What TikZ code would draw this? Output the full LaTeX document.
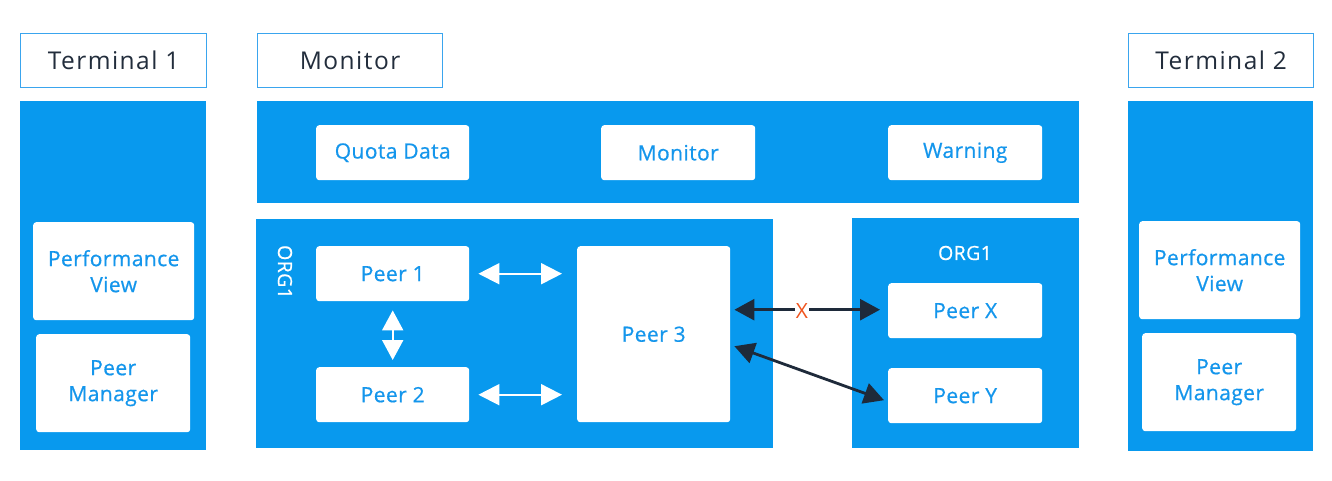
\documentclass[tikz,border=0pt]{standalone}
\usepackage{fontspec}
\setmainfont{Open Sans}
\newfontfamily\titlefont[LetterSpace=6]{Open Sans}
\newfontfamily\boxfont[LetterSpace=2,FakeBold=0.6]{Open Sans}
\usetikzlibrary{arrows.meta,calc}
\definecolor{bluefill}{HTML}{0899EE}
\definecolor{bluetext}{HTML}{1496EC}
\definecolor{darktext}{HTML}{222D3C}
\definecolor{darkarrow}{HTML}{1E2A3A}
\definecolor{xorange}{HTML}{F0541E}
\definecolor{labelborder}{HTML}{3AA5EE}
\begin{document}
\begin{tikzpicture}[x=1pt,y=-1pt,
  panel/.style={fill=bluefill, draw=none},
  titlebox/.style={draw=labelborder, line width=1.2pt, fill=white, text=darktext,
     font=\titlefont\fontsize{24.5}{30}\selectfont, inner sep=0pt, anchor=north west},
  wbox/.style={fill=white, draw=none, rounded corners=3pt, text=bluetext,
     font=\boxfont\fontsize{21}{26}\selectfont, inner sep=0pt, align=center, anchor=north west},
  warr/.style={draw=white, line width=2pt, {Triangle[length=21pt,width=21pt]}-{Triangle[length=21pt,width=21pt]}},
  varr/.style={draw=white, line width=2pt, {Triangle[length=20pt,width=21pt]}-{Triangle[length=20pt,width=21pt]}},
  darr/.style={draw=darkarrow, line width=2.8pt, {Triangle[length=20pt,width=21pt]}-{Triangle[length=20pt,width=21pt]}},
  orglabel/.style={text=white, font=\boxfont\fontsize{19.5}{22}\selectfont, inner sep=0pt}
]
\useasboundingbox (0,0) rectangle (1332,480);
\fill[white] (0,0) rectangle (1332,480);

% title boxes
\node[titlebox, minimum width=186pt, minimum height=54pt] (t1) at (20,33) {Terminal 1};
\node[titlebox, minimum width=185pt, minimum height=54pt] (tm) at (257,33) {Monitor};
\node[titlebox, minimum width=185pt, minimum height=54pt] (t2) at (1128,33) {Terminal 2};

% panels
\fill[panel] (20,101) rectangle (206,450);
\fill[panel] (1128,101) rectangle (1313,451);
\fill[panel] (257,101) rectangle (1079,203);
\fill[panel] (256,219) rectangle (773,448);
\fill[panel] (852,218) rectangle (1079,448);

% left terminal
\node[wbox, minimum width=161pt, minimum height=98pt] (pv1) at (33,222) {Performance\\View};
\node[wbox, minimum width=154pt, minimum height=98pt] (pm1) at (36,334) {Peer\\Manager};
% right terminal
\node[wbox, minimum width=161pt, minimum height=98pt] (pv2) at (1139,221) {Performance\\View};
\node[wbox, minimum width=154pt, minimum height=98pt] (pm2) at (1142,333) {Peer\\Manager};

% monitor band
\node[wbox, minimum width=153pt, minimum height=55pt] (qd) at (316,125) {Quota Data};
\node[wbox, minimum width=154pt, minimum height=55pt] (mo) at (601,125) {Monitor};
\node[wbox, minimum width=154pt, minimum height=55pt] (wa) at (888,125) {Warning};

% ORG1 left
\node[orglabel, rotate=-90] (org1a) at (285,272) {ORG1};
\node[wbox, minimum width=153pt, minimum height=55pt] (p1) at (316,246) {Peer 1};
\node[wbox, minimum width=153pt, minimum height=55pt] (p2) at (316,367) {Peer 2};
\node[wbox, minimum width=153pt, minimum height=176pt] (p3) at (577,246) {Peer 3};

% ORG1 right
\node[orglabel] (org1b) at (965,253) {ORG1};
\node[wbox, minimum width=154pt, minimum height=55pt] (px) at (888,283) {Peer X};
\node[wbox, minimum width=154pt, minimum height=55pt] (py) at (888,368) {Peer Y};

% white arrows
\draw[warr, shorten <=9pt, shorten >=15pt] (p1.east) -- (p1.east -| p3.west);
\draw[warr, shorten <=9pt, shorten >=15pt] (p2.east) -- (p2.east -| p3.west);
\draw[varr, shorten <=9pt, shorten >=7pt] (p1.south) -- (p2.north);

% dark arrows
\coordinate (a1s) at ($(p3.east |- px.west)+(4,-1)$);
\coordinate (a1e) at ($(px.west)+(-8,-1)$);
\draw[darr] (a1s) -- (a1e);
\node[fill=white, text=xorange, inner sep=1pt, font=\fontsize{21}{24}\selectfont] (xm) at (802,311) {X};
\coordinate (a2s) at ($(p3.east)+(4,12)$);
\coordinate (a2e) at ($(py.west)+(-4,4.5)$);
\draw[darr] (a2s) -- (a2e);
\end{tikzpicture}
\end{document}
